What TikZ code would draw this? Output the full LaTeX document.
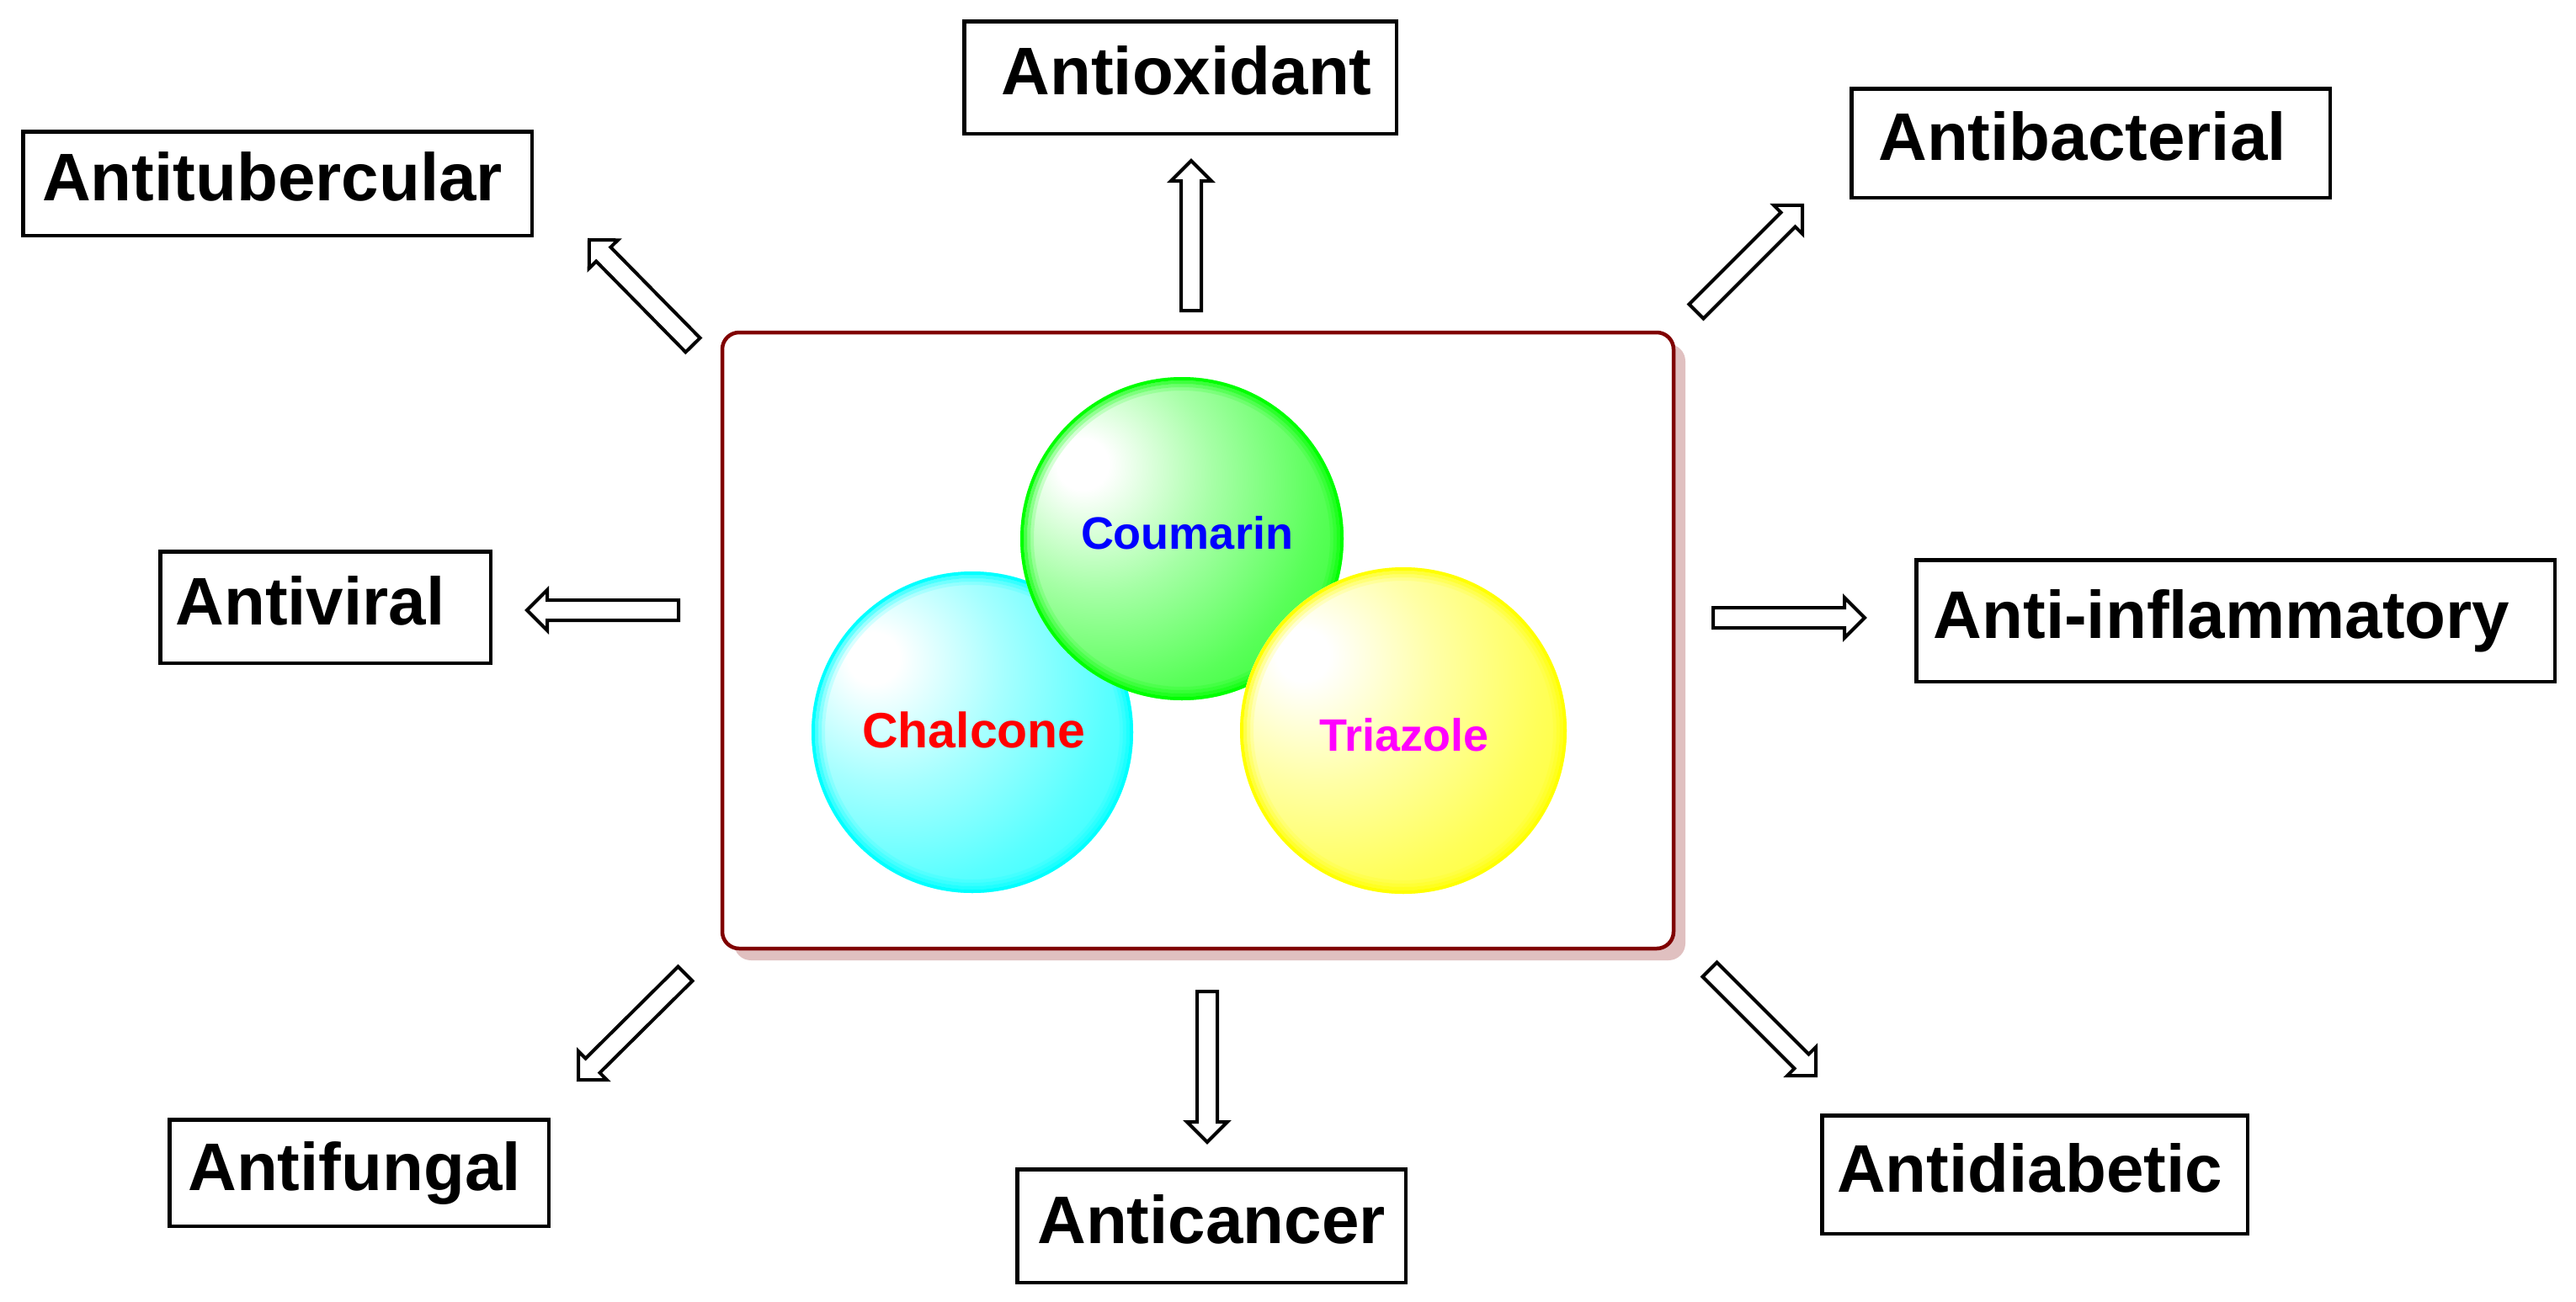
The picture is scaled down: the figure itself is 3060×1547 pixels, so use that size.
\documentclass[tikz,border=0pt]{standalone}
\usepackage{fontspec}
\setmainfont{Liberation Sans}
\usetikzlibrary{calc,shadows}
\definecolor{boxred}{RGB}{128,0,0}
\definecolor{shadowc}{RGB}{224,192,192}
\definecolor{cy}{RGB}{0,255,255}
\definecolor{gr}{RGB}{0,255,0}
\definecolor{ye}{RGB}{255,255,0}
\definecolor{bl}{RGB}{0,0,255}
\definecolor{rd}{RGB}{255,0,0}
\definecolor{mg}{RGB}{255,0,255}
\pgfdeclareradialshading{ballcy}{\pgfpoint{-16bp}{12bp}}{color(0bp)=(white); color(4bp)=(white); color(18bp)=(cy!35!white); color(32bp)=(cy!65!white); color(48bp)=(cy!90!white); color(60bp)=(cy); color(100bp)=(cy)}
\pgfdeclareradialshading{ballgr}{\pgfpoint{-16bp}{12bp}}{color(0bp)=(white); color(4bp)=(white); color(18bp)=(gr!35!white); color(32bp)=(gr!65!white); color(48bp)=(gr!90!white); color(60bp)=(gr); color(100bp)=(gr)}
\pgfdeclareradialshading{ballye}{\pgfpoint{-16bp}{12bp}}{color(0bp)=(white); color(4bp)=(white); color(18bp)=(ye!35!white); color(32bp)=(ye!65!white); color(48bp)=(ye!90!white); color(60bp)=(ye); color(100bp)=(ye)}
\newcommand\blockarrow[2]{%
  \draw[blockarr] let \p1=($(#2)-(#1)$), \n1={veclen(\x1,\y1)}, \n2={atan2(\y1,\x1)} in
   [shift={(#1)}, rotate=\n2] (0pt,-12pt) -- ({\n1*1pt-24pt},-12pt) -- ({\n1*1pt-24pt},-24pt) -- ({\n1*1pt},0pt) -- ({\n1*1pt-24pt},24pt) -- ({\n1*1pt-24pt},12pt) -- (0pt,12pt) -- cycle;}
\newcommand\rim[3]{% node, radius, colour
  \draw[#3, line width=4pt] (#1.center) circle ({#2-2pt});
  \draw[#3, line width=4pt, opacity=0.6] (#1.center) circle ({#2-6pt});
  \draw[#3, line width=4pt, opacity=0.35] (#1.center) circle ({#2-10pt});
  \draw[#3, line width=4pt, opacity=0.15] (#1.center) circle ({#2-14pt});}
\newcommand\txshift[1]{\hspace*{#1}}
\begin{document}
\begin{tikzpicture}[x=1pt,y=-1pt,
  lbl/.style={draw=black, line width=4.5pt, fill=white, inner sep=0pt,
    font=\fontsize{80}{90}\selectfont\bfseries, text height=60pt, text depth=18.7pt},
  blockarr/.style={draw=black, fill=white, line width=4pt},
  ball/.style={circle, inner sep=0pt, minimum size=#1},
  intext/.style={anchor=base, inner sep=0pt, font=\fontsize{#1}{#1}\selectfont\bfseries}]
\useasboundingbox (0,0) rectangle (3060,1547);
% central box
\node[draw=boxred, line width=4.5pt, fill=white, rounded corners=20pt,
  minimum width=1130pt, minimum height=732pt,
  drop shadow={shadow xshift=14pt, shadow yshift=-14pt, fill=shadowc, opacity=1}] (core) at (1423,761) {};
% spheres
\node[ball=382pt, shading=ballcy] (chal) at (1155,870) {};
\rim{chal}{191pt}{cy}
\node[ball=384pt, shading=ballgr] (coum) at (1404,640) {};
\rim{coum}{192pt}{gr}
\node[ball=388pt, shading=ballye] (tria) at (1667,868) {};
\rim{tria}{194pt}{ye}
\node[intext=54, text=bl] (tcoum) at (1410,652) {Coumarin};
\node[intext=59, text=rd] (tchal) at (1157,888) {Chalcone};
\node[intext=54, text=mg] (ttria) at (1668,892) {Triazole};
% labels
\node[lbl, minimum width=604.5pt, minimum height=123.5pt] (tub) at (329.5,218) {Antitubercular\txshift{12pt}};
\node[lbl, minimum width=513.5pt, minimum height=133.5pt] (oxi) at (1402,92) {\txshift{15pt}Antioxidant};
\node[lbl, minimum width=568.5pt, minimum height=129.5pt] (bac) at (2483.5,170) {Antibacterial\txshift{20pt}};
\node[lbl, minimum width=392.5pt, minimum height=132.5pt] (vir) at (386.5,721.5) {Antiviral\txshift{36pt}};
\node[lbl, minimum width=758.5pt, minimum height=144.5pt] (inf) at (2655.5,737.5) {Anti-inflammatory\txshift{33pt}};
\node[lbl, minimum width=450.5pt, minimum height=126.5pt] (fun) at (426.5,1393.5) {Antifungal\txshift{11pt}};
\node[lbl, minimum width=461.5pt, minimum height=134.5pt] (can) at (1439,1456.5) {Anticancer};
\node[lbl, minimum width=505.5pt, minimum height=140.5pt] (dia) at (2417,1395.5) {Antidiabetic\txshift{12pt}};
% arrow end points
\coordinate (aUt) at (1415,369);  \coordinate (aUh) at (1415,191);
\coordinate (aNEt) at (2015,370); \coordinate (aNEh) at (2141,244);
\coordinate (aNWt) at (823,410);  \coordinate (aNWh) at (700,285);
\coordinate (aLt) at (806,725);   \coordinate (aLh) at (626,725);
\coordinate (aRt) at (2035,734);  \coordinate (aRh) at (2215,734);
\coordinate (aSWt) at (814,1157); \coordinate (aSWh) at (687,1283);
\coordinate (aDt) at (1434,1178); \coordinate (aDh) at (1434,1357);
\coordinate (aSEt) at (2031,1152);\coordinate (aSEh) at (2157,1278);
\blockarrow{aUt}{aUh}
\blockarrow{aNEt}{aNEh}
\blockarrow{aNWt}{aNWh}
\blockarrow{aLt}{aLh}
\blockarrow{aRt}{aRh}
\blockarrow{aSWt}{aSWh}
\blockarrow{aDt}{aDh}
\blockarrow{aSEt}{aSEh}
\end{tikzpicture}
\end{document}
